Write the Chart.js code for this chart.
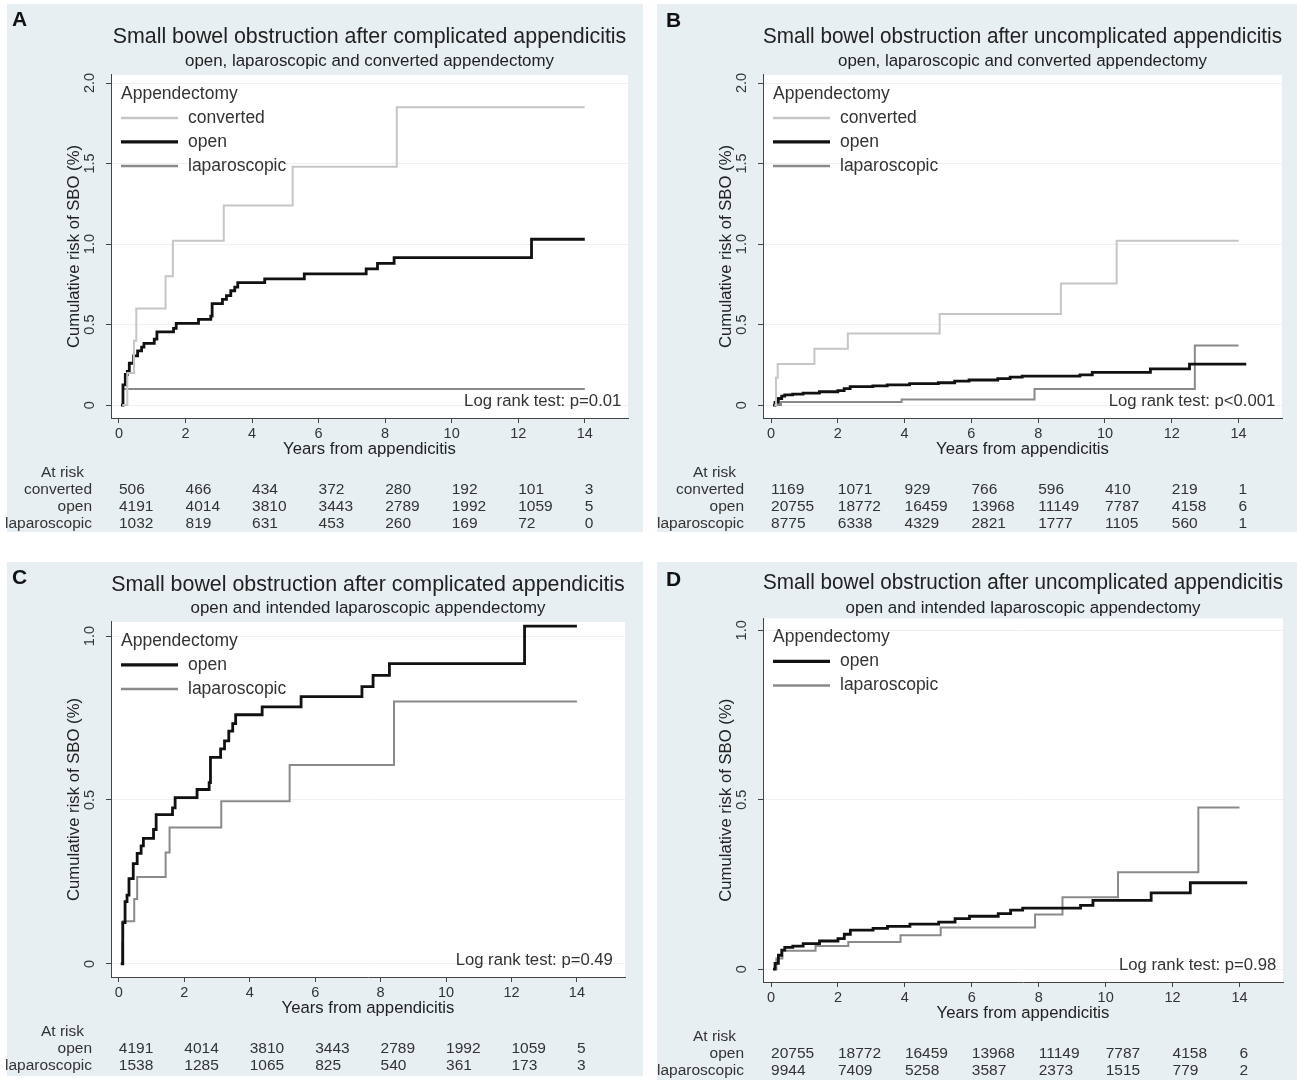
<!DOCTYPE html>
<html>
<head>
<meta charset="utf-8">
<script src="https://cdn.jsdelivr.net/npm/chart.js@4.4.0/dist/chart.umd.min.js"></script>
<style>
  body { margin: 0; background: #fff; width: 1297px; height: 1080px; overflow: hidden; position: relative; }
  .bg { position: absolute; background: #e8eff2; }
  canvas { position: absolute; display: block; }
</style>
</head>
<body>
<div class="bg" style="left:7px;top:4px;width:636px;height:528px"></div>
<div class="bg" style="left:657px;top:4px;width:640px;height:528px"></div>
<div class="bg" style="left:7px;top:562px;width:636px;height:514px"></div>
<div class="bg" style="left:657px;top:562px;width:640px;height:518px"></div>
<canvas id="chartA" width="643" height="528" style="left:0;top:4px"></canvas>
<canvas id="chartB" width="647" height="528" style="left:650px;top:4px"></canvas>
<canvas id="chartC" width="643" height="514" style="left:0;top:562px"></canvas>
<canvas id="chartD" width="647" height="518" style="left:650px;top:562px"></canvas>
<script>
const xTicks = [0, 2, 4, 6, 8, 10, 12, 14];
const yTicksWide = [0, 0.5, 1.0, 1.5, 2.0];
const yTicksNarrow = [0, 0.5, 1.0];

// complicated appendicitis (years, cumulative risk %)
const compOpenYears = [0.06, 0.12, 0.19, 0.25, 0.31, 0.44, 0.56, 0.68, 0.75, 1.06, 1.14, 1.64, 1.72, 2.39, 2.76, 2.80, 3.11, 3.23, 3.36, 3.48, 3.57, 4.38, 5.57, 7.43, 7.77, 8.27, 12.4, 14.0];
const compOpenRisk  = [0, 0.126, 0.19, 0.21, 0.26, 0.306, 0.337, 0.36, 0.383, 0.41, 0.455, 0.476, 0.507, 0.532, 0.553, 0.63, 0.656, 0.68, 0.71, 0.733, 0.76, 0.784, 0.815, 0.846, 0.88, 0.916, 1.03, 1.03];
const compConvYears = [0.1, 0.25, 0.45, 0.52, 1.4, 1.62, 3.15, 5.22, 8.35, 14.0];
const compConvRisk  = [0, 0.2, 0.4, 0.6, 0.8, 1.02, 1.24, 1.48, 1.85, 1.85];
const compLapYears  = [0.08, 0.12, 14.0];
const compLapRisk   = [0, 0.1, 0.1];
const compIntLapYears = [0.06, 0.10, 0.12, 0.47, 0.56, 1.43, 1.55, 3.13, 5.22, 8.41, 14.0];
const compIntLapRisk  = [0, 0.065, 0.13, 0.198, 0.265, 0.34, 0.416, 0.496, 0.607, 0.80, 0.80];

// uncomplicated appendicitis
const uncOpenYears = [0.06, 0.12, 0.22, 0.32, 0.41, 0.65, 0.96, 1.45, 2.0, 2.19, 2.37, 3.05, 3.48, 4.15, 5.01, 5.5, 5.93, 6.79, 7.16, 7.52, 9.25, 9.62, 11.36, 12.53, 14.23];
const uncOpenRisk  = [0, 0.017, 0.041, 0.056, 0.064, 0.068, 0.075, 0.083, 0.09, 0.103, 0.115, 0.12, 0.126, 0.133, 0.139, 0.149, 0.156, 0.164, 0.174, 0.18, 0.188, 0.203, 0.225, 0.255, 0.255];
const uncConvYears = [0.1, 0.15, 0.2, 1.3, 2.3, 5.05, 8.68, 10.35, 14.0];
const uncConvRisk  = [0, 0.17, 0.256, 0.35, 0.445, 0.565, 0.755, 1.02, 1.02];
const uncLapYears  = [0.15, 0.3, 3.91, 7.89, 12.69, 14.0];
const uncLapRisk   = [0, 0.02, 0.035, 0.10, 0.37, 0.37];
const uncIntLapYears = [0.06, 0.16, 0.34, 1.33, 2.31, 3.87, 5.07, 7.89, 8.71, 10.37, 12.77, 14.0];
const uncIntLapRisk  = [0, 0.031, 0.054, 0.068, 0.08, 0.10, 0.123, 0.161, 0.212, 0.286, 0.477, 0.477];

// numbers at risk at each x tick
const atRiskCompConv   = [506, 466, 434, 372, 280, 192, 101, 3];
const atRiskCompOpen   = [4191, 4014, 3810, 3443, 2789, 1992, 1059, 5];
const atRiskCompLap    = [1032, 819, 631, 453, 260, 169, 72, 0];
const atRiskCompIntLap = [1538, 1285, 1065, 825, 540, 361, 173, 3];
const atRiskUncConv    = [1169, 1071, 929, 766, 596, 410, 219, 1];
const atRiskUncOpen    = [20755, 18772, 16459, 13968, 11149, 7787, 4158, 6];
const atRiskUncLap     = [8775, 6338, 4329, 2821, 1777, 1105, 560, 1];
const atRiskUncIntLap  = [9944, 7409, 5258, 3587, 2373, 1515, 779, 2];

const FONT = '"Liberation Sans", Arial, sans-serif';
Chart.defaults.font.family = FONT;

const CONV = {label: 'converted', color: '#c6c6c6', width: 2};
const OPEN = {label: 'open', color: '#111111', width: 2.8};
const LAP  = {label: 'laparoscopic', color: '#8a8a8a', width: 2};

const kmExtras = {
  id: 'kmExtras',
  beforeDraw(chart) {
    const {ctx, chartArea: a} = chart;
    ctx.save();
    ctx.fillStyle = '#ffffff';
    ctx.fillRect(a.left, a.top, a.right - a.left, a.bottom - a.top);
    ctx.restore();
  },
  afterDraw(chart, args, opts) {
    const {ctx, chartArea: a} = chart;
    const x = chart.scales.x;
    ctx.save();
    ctx.textBaseline = 'middle';

    // panel letter
    ctx.fillStyle = '#111';
    ctx.textAlign = 'left';
    ctx.font = 'bold 21px ' + FONT;
    ctx.fillText(opts.letter, opts.letterX, opts.letterY);

    // legend inside the plot
    ctx.fillStyle = '#333';
    ctx.font = '17.5px ' + FONT;
    ctx.fillText('Appendectomy', a.left + 10, a.top + 19);
    chart.data.datasets.forEach((ds, i) => {
      const y = a.top + 43 + i * 24;
      ctx.strokeStyle = ds.borderColor;
      ctx.lineWidth = ds.borderWidth + 0.4;
      ctx.beginPath();
      ctx.moveTo(a.left + 10, y);
      ctx.lineTo(a.left + 67, y);
      ctx.stroke();
      ctx.fillText(ds.label, a.left + 77, y);
    });

    // log rank test
    ctx.font = '16.7px ' + FONT;
    ctx.textAlign = 'right';
    ctx.fillText(opts.logRank, x.getPixelForValue(15.1), a.bottom - 17);

    // at risk table
    ctx.font = '15.5px ' + FONT;
    ctx.fillText('At risk', a.left - 27, a.bottom + 55);
    opts.rows.forEach((row, r) => {
      const y = a.bottom + 72 + r * 17;
      ctx.textAlign = 'right';
      ctx.fillText(chart.data.datasets[r].label, a.left - 19, y);
      ctx.textAlign = 'left';
      row.forEach((n, k) => ctx.fillText(String(n), x.getPixelForValue(xTicks[k]), y));
    });
    ctx.restore();
  }
};

function kmChart(id, cfg) {
  return new Chart(document.getElementById(id), {
    type: 'line',
    data: {
      datasets: cfg.series.map(s => ({
        label: s.kind.label,
        data: s.years.map((t, i) => ({x: t, y: s.risk[i]})),
        borderColor: s.kind.color,
        borderWidth: s.kind.width,
        stepped: 'before',
        pointRadius: 0,
        fill: false
      }))
    },
    options: {
      responsive: false,
      animation: false,
      events: [],
      layout: {padding: {right: cfg.padRight, bottom: cfg.padBottom}},
      plugins: {
        legend: {display: false},
        tooltip: {enabled: false},
        title: {
          display: true, text: cfg.title, fullSize: false, color: '#222',
          font: {size: 21.4, weight: 'normal'}, padding: {top: cfg.titleTop, bottom: 0}
        },
        subtitle: {
          display: true, text: cfg.subtitle, fullSize: false, color: '#222',
          font: {size: 16.9}, padding: {top: cfg.subTop, bottom: cfg.subBottom}
        },
        kmExtras: {
          letter: cfg.letter, letterX: cfg.letterX, letterY: cfg.letterY,
          logRank: cfg.logRank, rows: cfg.series.map(s => s.atRisk)
        }
      },
      scales: {
        x: {
          type: 'linear', min: -0.24, max: cfg.xMax,
          afterBuildTicks: ax => { ax.ticks = xTicks.map(v => ({value: v})); },
          afterFit: ax => { ax.height = 41; },
          grid: {drawOnChartArea: false, tickLength: 5, tickColor: '#444'},
          border: {color: '#444', width: 1},
          ticks: {color: '#333', font: {size: 14.5}, padding: 2, maxRotation: 0, autoSkip: false},
          title: {display: true, text: 'Years from appendicitis', color: '#222', font: {size: 16.7}, padding: 0}
        },
        y: {
          type: 'linear', min: cfg.yMin, max: cfg.yMax,
          afterBuildTicks: ax => { ax.ticks = cfg.yTicks.map(v => ({value: v})); },
          afterFit: ax => { ax.width = cfg.yWidth; },
          grid: {color: '#edf1f3', tickLength: 5, tickColor: '#444'},
          border: {color: '#444', width: 1},
          ticks: {
            color: '#333', font: {size: 14.5}, padding: 6, minRotation: 90, maxRotation: 90,
            crossAlign: 'center', callback: v => v === 0 ? '0' : v.toFixed(1)
          },
          title: {
            display: true, text: 'Cumulative risk of SBO (%)', color: '#222', font: {size: 16.7},
            padding: {top: cfg.yWidth - 47, bottom: 0}
          }
        }
      }
    },
    plugins: [kmExtras]
  });
}

kmChart('chartA', {
  letter: 'A', letterX: 12, letterY: 16,
  title: 'Small bowel obstruction after complicated appendicitis',
  subtitle: 'open, laparoscopic and converted appendectomy',
  logRank: 'Log rank test: p=0.01',
  titleTop: 20, subTop: 2, subBottom: 3, padRight: 15, padBottom: 73,
  yWidth: 111, xMax: 15.3, yMin: -0.08, yMax: 2.05, yTicks: yTicksWide,
  series: [
    {kind: CONV, years: compConvYears, risk: compConvRisk, atRisk: atRiskCompConv},
    {kind: OPEN, years: compOpenYears, risk: compOpenRisk, atRisk: atRiskCompOpen},
    {kind: LAP, years: compLapYears, risk: compLapRisk, atRisk: atRiskCompLap}
  ]
});

kmChart('chartB', {
  letter: 'B', letterX: 16, letterY: 17,
  title: 'Small bowel obstruction after uncomplicated appendicitis',
  subtitle: 'open, laparoscopic and converted appendectomy',
  logRank: 'Log rank test: p<0.001',
  titleTop: 20, subTop: 2, subBottom: 3, padRight: 15, padBottom: 73,
  yWidth: 113, xMax: 15.3, yMin: -0.08, yMax: 2.05, yTicks: yTicksWide,
  series: [
    {kind: CONV, years: uncConvYears, risk: uncConvRisk, atRisk: atRiskUncConv},
    {kind: OPEN, years: uncOpenYears, risk: uncOpenRisk, atRisk: atRiskUncOpen},
    {kind: LAP, years: uncLapYears, risk: uncLapRisk, atRisk: atRiskUncLap}
  ]
});

kmChart('chartC', {
  letter: 'C', letterX: 12, letterY: 16,
  title: 'Small bowel obstruction after complicated appendicitis',
  subtitle: 'open and intended laparoscopic appendectomy',
  logRank: 'Log rank test: p=0.49',
  titleTop: 10, subTop: 1, subBottom: 3, padRight: 18, padBottom: 58,
  yWidth: 111, xMax: 15.47, yMin: -0.04, yMax: 1.043, yTicks: yTicksNarrow,
  series: [
    {kind: OPEN, years: compOpenYears, risk: compOpenRisk, atRisk: atRiskCompOpen},
    {kind: LAP, years: compIntLapYears, risk: compIntLapRisk, atRisk: atRiskCompIntLap}
  ]
});

kmChart('chartD', {
  letter: 'D', letterX: 16, letterY: 18,
  title: 'Small bowel obstruction after uncomplicated appendicitis',
  subtitle: 'open and intended laparoscopic appendectomy',
  logRank: 'Log rank test: p=0.98',
  titleTop: 8, subTop: 2.5, subBottom: 0, padRight: 14, padBottom: 57,
  yWidth: 113, xMax: 15.3, yMin: -0.038, yMax: 1.035, yTicks: yTicksNarrow,
  series: [
    {kind: OPEN, years: uncOpenYears, risk: uncOpenRisk, atRisk: atRiskUncOpen},
    {kind: LAP, years: uncIntLapYears, risk: uncIntLapRisk, atRisk: atRiskUncIntLap}
  ]
});
</script>
</body>
</html>
